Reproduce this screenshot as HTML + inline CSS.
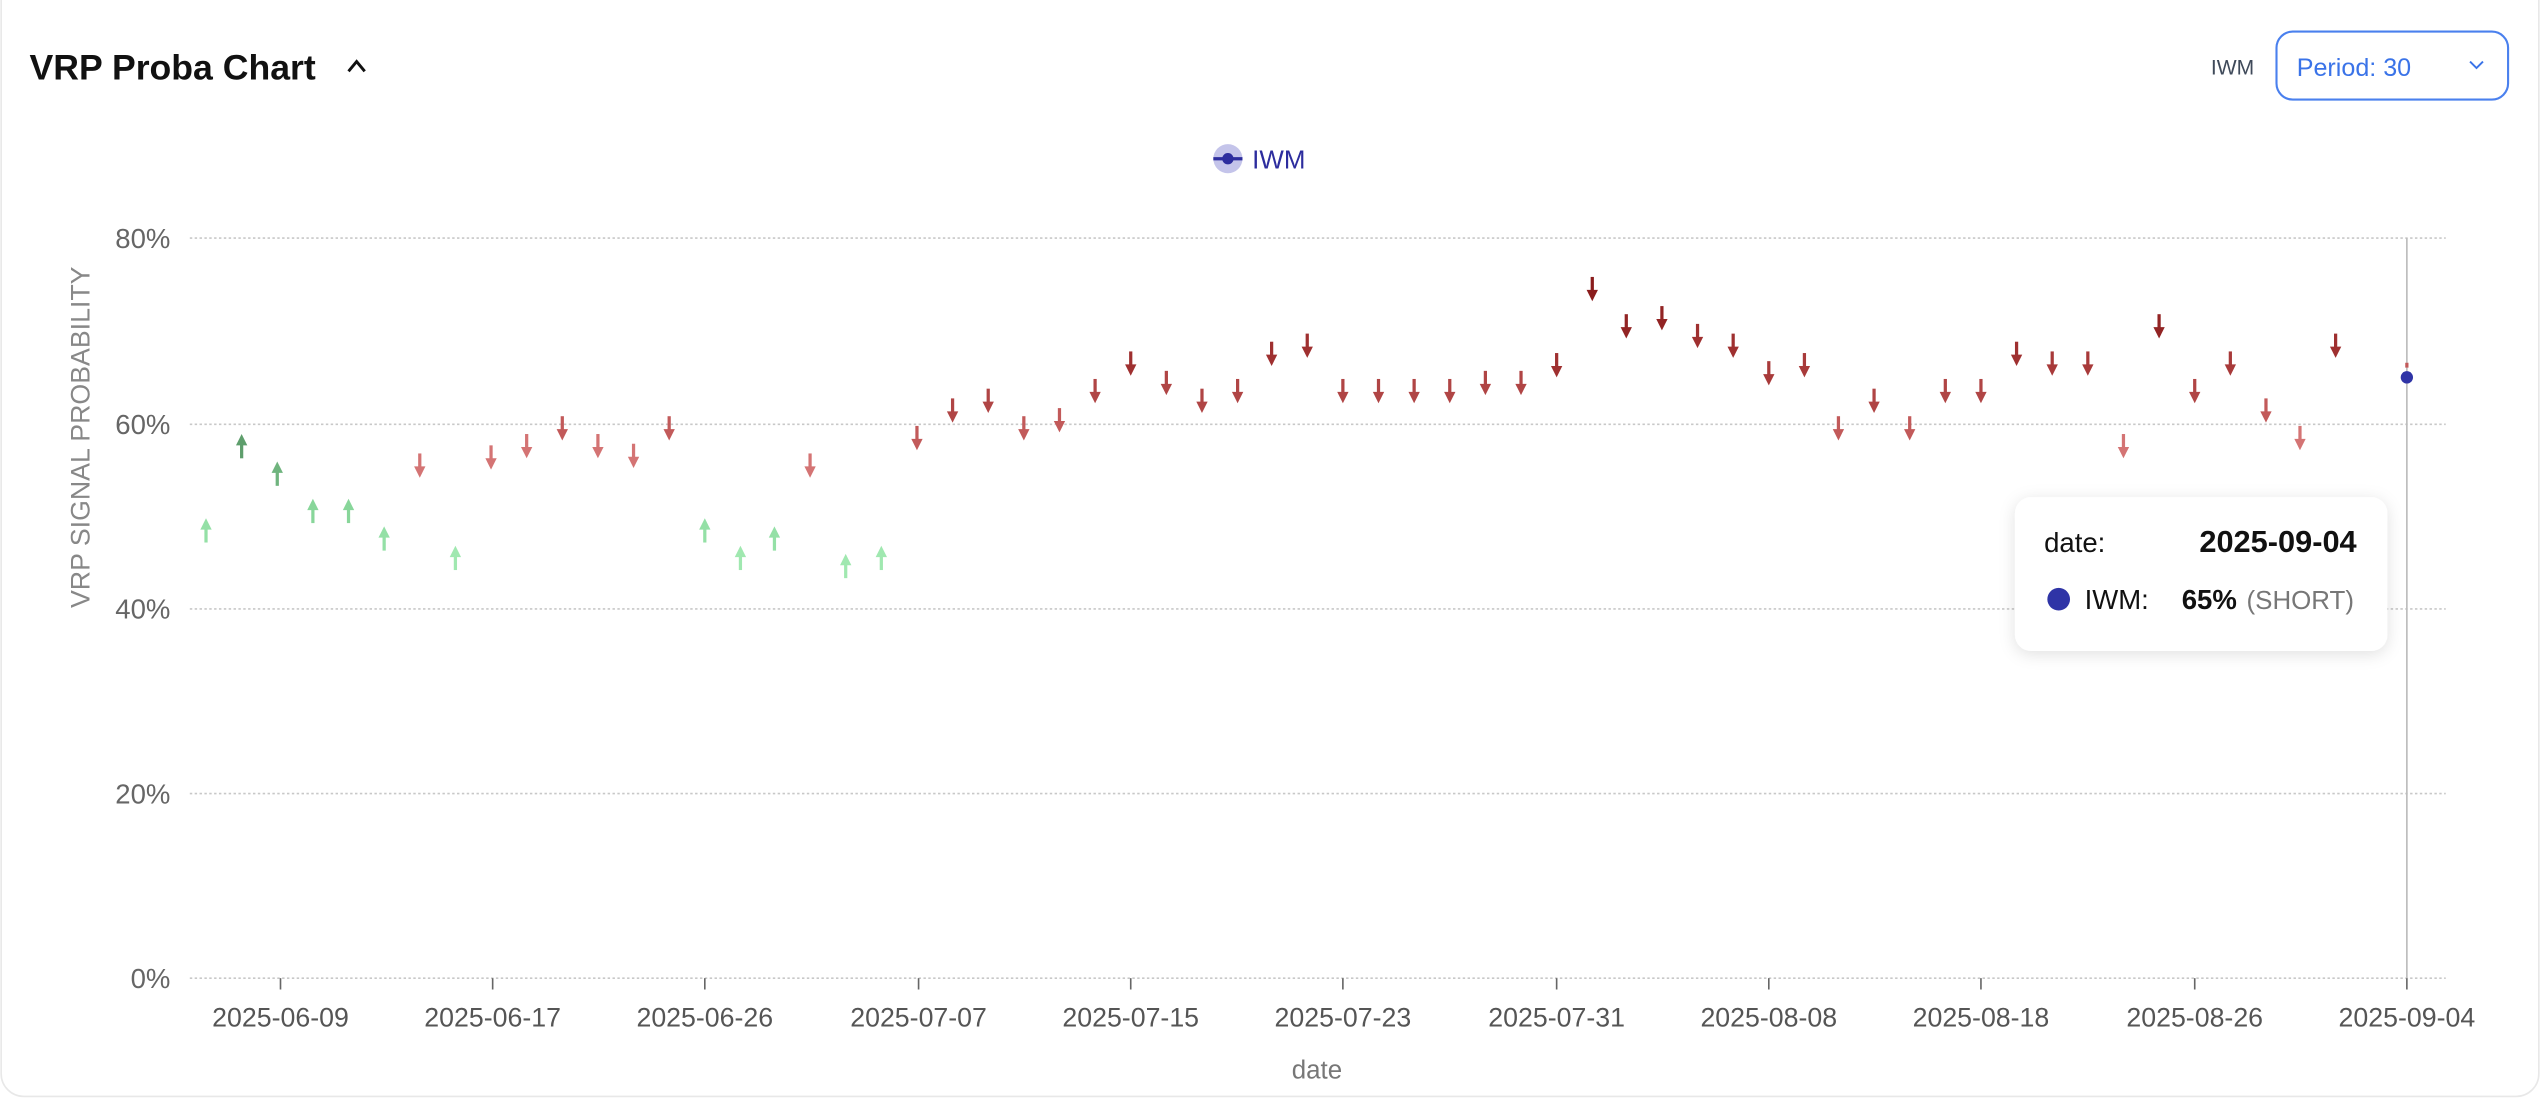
<!DOCTYPE html>
<html><head><meta charset="utf-8"><style>
html,body{margin:0;padding:0;background:#fff;}
svg{display:block;font-family:"Liberation Sans",sans-serif;}
</style></head><body>
<svg width="2540" height="1098" viewBox="0 0 1568 678" xmlns="http://www.w3.org/2000/svg">
<defs><filter id="sh" x="-20%" y="-20%" width="140%" height="150%"><feDropShadow dx="0" dy="2" stdDeviation="5" flood-color="#000" flood-opacity="0.12"/></filter></defs>
<rect x="0.5" y="-20" width="1567" height="697" rx="14" fill="#fff" stroke="#e8e8e8"/>
<text x="18" y="49" font-size="22" font-weight="bold" fill="#111">VRP Proba Chart</text>
<path d="M215 44 L220 38 L225 44" fill="none" stroke="#111" stroke-width="1.8"/>
<text x="1365" y="46" font-size="13" fill="#3f4a5a">IWM</text>
<rect x="1405.5" y="19.5" width="143" height="42" rx="10" fill="#fff" stroke="#4a80ee" stroke-width="1.3"/>
<text x="1418" y="47" font-size="15.5" fill="#3a73e8">Period: 30</text>
<path d="M1525 38 L1529 42 L1533 38" fill="none" stroke="#3a73e8" stroke-width="1.2"/>
<circle cx="758" cy="98" r="9" fill="#c4c4ea"/><line x1="749" y1="98" x2="767" y2="98" stroke="#2d2d9e" stroke-width="2"/><circle cx="758" cy="98" r="3.5" fill="#2d2d9e"/>
<text x="773" y="104" font-size="16" fill="#2d2d9e">IWM</text>
<g stroke="#c8c8c8" stroke-dasharray="1.5 1.5" stroke-width="1">
<line x1="117" y1="147" x2="1510" y2="147"/><line x1="117" y1="262" x2="1510" y2="262"/><line x1="117" y1="376" x2="1510" y2="376"/><line x1="117" y1="490" x2="1510" y2="490"/><line x1="117" y1="604" x2="1510" y2="604"/>
</g>
<g font-size="17" fill="#666" text-anchor="end">
<text x="105" y="153">80%</text><text x="105" y="268">60%</text><text x="105" y="382">40%</text><text x="105" y="496">20%</text><text x="105" y="610">0%</text>
</g>
<text transform="translate(55,270) rotate(-90)" font-size="16.5" fill="#888" text-anchor="middle">VRP SIGNAL PROBABILITY</text>
<g stroke="#666" stroke-width="1">
<line x1="173" y1="604" x2="173" y2="611"/><line x1="304" y1="604" x2="304" y2="611"/><line x1="435" y1="604" x2="435" y2="611"/><line x1="567" y1="604" x2="567" y2="611"/><line x1="698" y1="604" x2="698" y2="611"/><line x1="829" y1="604" x2="829" y2="611"/><line x1="961" y1="604" x2="961" y2="611"/><line x1="1092" y1="604" x2="1092" y2="611"/><line x1="1223" y1="604" x2="1223" y2="611"/><line x1="1355" y1="604" x2="1355" y2="611"/><line x1="1486" y1="604" x2="1486" y2="611"/>
</g>
<g font-size="16.5" fill="#555" text-anchor="middle">
<text x="173" y="634">2025-06-09</text><text x="304" y="634">2025-06-17</text><text x="435" y="634">2025-06-26</text><text x="567" y="634">2025-07-07</text><text x="698" y="634">2025-07-15</text><text x="829" y="634">2025-07-23</text><text x="961" y="634">2025-07-31</text><text x="1092" y="634">2025-08-08</text><text x="1223" y="634">2025-08-18</text><text x="1355" y="634">2025-08-26</text><text x="1486" y="634">2025-09-04</text>
</g>
<text x="813" y="666" font-size="16" fill="#777" text-anchor="middle">date</text>
<line x1="1486" y1="147" x2="1486" y2="604" stroke="#bbb" stroke-width="1"/>
<g stroke-width="2">
<g transform="translate(127,327)" stroke="#94e0a6" fill="#94e0a6"><path d="M0 8V-2"/><path d="M-3.5 0H3.5L0-7Z" stroke="none"/></g>
<g transform="translate(149,275)" stroke="#5e9e6c" fill="#5e9e6c"><path d="M0 8V-2"/><path d="M-3.5 0H3.5L0-7Z" stroke="none"/></g>
<g transform="translate(171,292)" stroke="#6fb47e" fill="#6fb47e"><path d="M0 8V-2"/><path d="M-3.5 0H3.5L0-7Z" stroke="none"/></g>
<g transform="translate(193,315)" stroke="#88d69a" fill="#88d69a"><path d="M0 8V-2"/><path d="M-3.5 0H3.5L0-7Z" stroke="none"/></g>
<g transform="translate(215,315)" stroke="#88d69a" fill="#88d69a"><path d="M0 8V-2"/><path d="M-3.5 0H3.5L0-7Z" stroke="none"/></g>
<g transform="translate(237,332)" stroke="#94e0a6" fill="#94e0a6"><path d="M0 8V-2"/><path d="M-3.5 0H3.5L0-7Z" stroke="none"/></g>
<g transform="translate(281,344)" stroke="#a0e8b0" fill="#a0e8b0"><path d="M0 8V-2"/><path d="M-3.5 0H3.5L0-7Z" stroke="none"/></g>
<g transform="translate(435,327)" stroke="#94e0a6" fill="#94e0a6"><path d="M0 8V-2"/><path d="M-3.5 0H3.5L0-7Z" stroke="none"/></g>
<g transform="translate(457,344)" stroke="#a0e8b0" fill="#a0e8b0"><path d="M0 8V-2"/><path d="M-3.5 0H3.5L0-7Z" stroke="none"/></g>
<g transform="translate(478,332)" stroke="#94e0a6" fill="#94e0a6"><path d="M0 8V-2"/><path d="M-3.5 0H3.5L0-7Z" stroke="none"/></g>
<g transform="translate(522,349)" stroke="#a0e8b0" fill="#a0e8b0"><path d="M0 8V-2"/><path d="M-3.5 0H3.5L0-7Z" stroke="none"/></g>
<g transform="translate(544,344)" stroke="#a0e8b0" fill="#a0e8b0"><path d="M0 8V-2"/><path d="M-3.5 0H3.5L0-7Z" stroke="none"/></g>
</g>
<g stroke-width="2">
<g transform="translate(259,288)" stroke="#d47474" fill="#d47474"><path d="M0-8V2"/><path d="M-3.5 0H3.5L0 7Z" stroke="none"/></g>
<g transform="translate(303,283)" stroke="#d47474" fill="#d47474"><path d="M0-8V2"/><path d="M-3.5 0H3.5L0 7Z" stroke="none"/></g>
<g transform="translate(325,276)" stroke="#d47474" fill="#d47474"><path d="M0-8V2"/><path d="M-3.5 0H3.5L0 7Z" stroke="none"/></g>
<g transform="translate(347,265)" stroke="#c25a5a" fill="#c25a5a"><path d="M0-8V2"/><path d="M-3.5 0H3.5L0 7Z" stroke="none"/></g>
<g transform="translate(369,276)" stroke="#d47474" fill="#d47474"><path d="M0-8V2"/><path d="M-3.5 0H3.5L0 7Z" stroke="none"/></g>
<g transform="translate(391,282)" stroke="#d47474" fill="#d47474"><path d="M0-8V2"/><path d="M-3.5 0H3.5L0 7Z" stroke="none"/></g>
<g transform="translate(413,265)" stroke="#c25a5a" fill="#c25a5a"><path d="M0-8V2"/><path d="M-3.5 0H3.5L0 7Z" stroke="none"/></g>
<g transform="translate(500,288)" stroke="#d47474" fill="#d47474"><path d="M0-8V2"/><path d="M-3.5 0H3.5L0 7Z" stroke="none"/></g>
<g transform="translate(566,271)" stroke="#c25a5a" fill="#c25a5a"><path d="M0-8V2"/><path d="M-3.5 0H3.5L0 7Z" stroke="none"/></g>
<g transform="translate(588,254)" stroke="#b04545" fill="#b04545"><path d="M0-8V2"/><path d="M-3.5 0H3.5L0 7Z" stroke="none"/></g>
<g transform="translate(610,248)" stroke="#b04545" fill="#b04545"><path d="M0-8V2"/><path d="M-3.5 0H3.5L0 7Z" stroke="none"/></g>
<g transform="translate(632,265)" stroke="#c25a5a" fill="#c25a5a"><path d="M0-8V2"/><path d="M-3.5 0H3.5L0 7Z" stroke="none"/></g>
<g transform="translate(654,260)" stroke="#c25a5a" fill="#c25a5a"><path d="M0-8V2"/><path d="M-3.5 0H3.5L0 7Z" stroke="none"/></g>
<g transform="translate(676,242)" stroke="#b04545" fill="#b04545"><path d="M0-8V2"/><path d="M-3.5 0H3.5L0 7Z" stroke="none"/></g>
<g transform="translate(698,225)" stroke="#9f3030" fill="#9f3030"><path d="M0-8V2"/><path d="M-3.5 0H3.5L0 7Z" stroke="none"/></g>
<g transform="translate(720,237)" stroke="#b04545" fill="#b04545"><path d="M0-8V2"/><path d="M-3.5 0H3.5L0 7Z" stroke="none"/></g>
<g transform="translate(742,248)" stroke="#b04545" fill="#b04545"><path d="M0-8V2"/><path d="M-3.5 0H3.5L0 7Z" stroke="none"/></g>
<g transform="translate(764,242)" stroke="#b04545" fill="#b04545"><path d="M0-8V2"/><path d="M-3.5 0H3.5L0 7Z" stroke="none"/></g>
<g transform="translate(785,219)" stroke="#9f3030" fill="#9f3030"><path d="M0-8V2"/><path d="M-3.5 0H3.5L0 7Z" stroke="none"/></g>
<g transform="translate(807,214)" stroke="#9f3030" fill="#9f3030"><path d="M0-8V2"/><path d="M-3.5 0H3.5L0 7Z" stroke="none"/></g>
<g transform="translate(829,242)" stroke="#b04545" fill="#b04545"><path d="M0-8V2"/><path d="M-3.5 0H3.5L0 7Z" stroke="none"/></g>
<g transform="translate(851,242)" stroke="#b04545" fill="#b04545"><path d="M0-8V2"/><path d="M-3.5 0H3.5L0 7Z" stroke="none"/></g>
<g transform="translate(873,242)" stroke="#b04545" fill="#b04545"><path d="M0-8V2"/><path d="M-3.5 0H3.5L0 7Z" stroke="none"/></g>
<g transform="translate(895,242)" stroke="#b04545" fill="#b04545"><path d="M0-8V2"/><path d="M-3.5 0H3.5L0 7Z" stroke="none"/></g>
<g transform="translate(917,237)" stroke="#b04545" fill="#b04545"><path d="M0-8V2"/><path d="M-3.5 0H3.5L0 7Z" stroke="none"/></g>
<g transform="translate(939,237)" stroke="#b04545" fill="#b04545"><path d="M0-8V2"/><path d="M-3.5 0H3.5L0 7Z" stroke="none"/></g>
<g transform="translate(961,226)" stroke="#9f3030" fill="#9f3030"><path d="M0-8V2"/><path d="M-3.5 0H3.5L0 7Z" stroke="none"/></g>
<g transform="translate(983,179)" stroke="#8a1c1c" fill="#8a1c1c"><path d="M0-8V2"/><path d="M-3.5 0H3.5L0 7Z" stroke="none"/></g>
<g transform="translate(1004,202)" stroke="#922424" fill="#922424"><path d="M0-8V2"/><path d="M-3.5 0H3.5L0 7Z" stroke="none"/></g>
<g transform="translate(1026,197)" stroke="#922424" fill="#922424"><path d="M0-8V2"/><path d="M-3.5 0H3.5L0 7Z" stroke="none"/></g>
<g transform="translate(1048,208)" stroke="#9f3030" fill="#9f3030"><path d="M0-8V2"/><path d="M-3.5 0H3.5L0 7Z" stroke="none"/></g>
<g transform="translate(1070,214)" stroke="#9f3030" fill="#9f3030"><path d="M0-8V2"/><path d="M-3.5 0H3.5L0 7Z" stroke="none"/></g>
<g transform="translate(1092,231)" stroke="#a83a3a" fill="#a83a3a"><path d="M0-8V2"/><path d="M-3.5 0H3.5L0 7Z" stroke="none"/></g>
<g transform="translate(1114,226)" stroke="#a83a3a" fill="#a83a3a"><path d="M0-8V2"/><path d="M-3.5 0H3.5L0 7Z" stroke="none"/></g>
<g transform="translate(1135,265)" stroke="#c25a5a" fill="#c25a5a"><path d="M0-8V2"/><path d="M-3.5 0H3.5L0 7Z" stroke="none"/></g>
<g transform="translate(1157,248)" stroke="#b04545" fill="#b04545"><path d="M0-8V2"/><path d="M-3.5 0H3.5L0 7Z" stroke="none"/></g>
<g transform="translate(1179,265)" stroke="#c25a5a" fill="#c25a5a"><path d="M0-8V2"/><path d="M-3.5 0H3.5L0 7Z" stroke="none"/></g>
<g transform="translate(1201,242)" stroke="#b04545" fill="#b04545"><path d="M0-8V2"/><path d="M-3.5 0H3.5L0 7Z" stroke="none"/></g>
<g transform="translate(1223,242)" stroke="#b04545" fill="#b04545"><path d="M0-8V2"/><path d="M-3.5 0H3.5L0 7Z" stroke="none"/></g>
<g transform="translate(1245,219)" stroke="#9f3030" fill="#9f3030"><path d="M0-8V2"/><path d="M-3.5 0H3.5L0 7Z" stroke="none"/></g>
<g transform="translate(1267,225)" stroke="#a83a3a" fill="#a83a3a"><path d="M0-8V2"/><path d="M-3.5 0H3.5L0 7Z" stroke="none"/></g>
<g transform="translate(1289,225)" stroke="#a83a3a" fill="#a83a3a"><path d="M0-8V2"/><path d="M-3.5 0H3.5L0 7Z" stroke="none"/></g>
<g transform="translate(1311,276)" stroke="#d47474" fill="#d47474"><path d="M0-8V2"/><path d="M-3.5 0H3.5L0 7Z" stroke="none"/></g>
<g transform="translate(1333,202)" stroke="#922424" fill="#922424"><path d="M0-8V2"/><path d="M-3.5 0H3.5L0 7Z" stroke="none"/></g>
<g transform="translate(1355,242)" stroke="#b04545" fill="#b04545"><path d="M0-8V2"/><path d="M-3.5 0H3.5L0 7Z" stroke="none"/></g>
<g transform="translate(1377,225)" stroke="#a83a3a" fill="#a83a3a"><path d="M0-8V2"/><path d="M-3.5 0H3.5L0 7Z" stroke="none"/></g>
<g transform="translate(1399,254)" stroke="#c25a5a" fill="#c25a5a"><path d="M0-8V2"/><path d="M-3.5 0H3.5L0 7Z" stroke="none"/></g>
<g transform="translate(1420,271)" stroke="#d47474" fill="#d47474"><path d="M0-8V2"/><path d="M-3.5 0H3.5L0 7Z" stroke="none"/></g>
<g transform="translate(1442,214)" stroke="#9f3030" fill="#9f3030"><path d="M0-8V2"/><path d="M-3.5 0H3.5L0 7Z" stroke="none"/></g>
</g>
<rect x="1485" y="224" width="2" height="3" fill="#c25a5a"/>
<circle cx="1486" cy="233" r="3.8" fill="#2f34a6"/>
<rect x="1244" y="307" width="230" height="95" rx="10" fill="#fff" filter="url(#sh)"/>
<text x="1262" y="341" font-size="17" fill="#111">date:</text>
<text x="1455" y="341" font-size="19" font-weight="bold" fill="#111" text-anchor="end">2025-09-04</text>
<circle cx="1271" cy="370" r="7" fill="#2f34a6"/>
<text x="1287" y="376" font-size="17" fill="#111">IWM:</text>
<text x="1347" y="376" font-size="17" font-weight="bold" fill="#111">65%</text>
<text x="1387" y="376" font-size="16" fill="#777">(SHORT)</text>
</svg>
</body></html>
